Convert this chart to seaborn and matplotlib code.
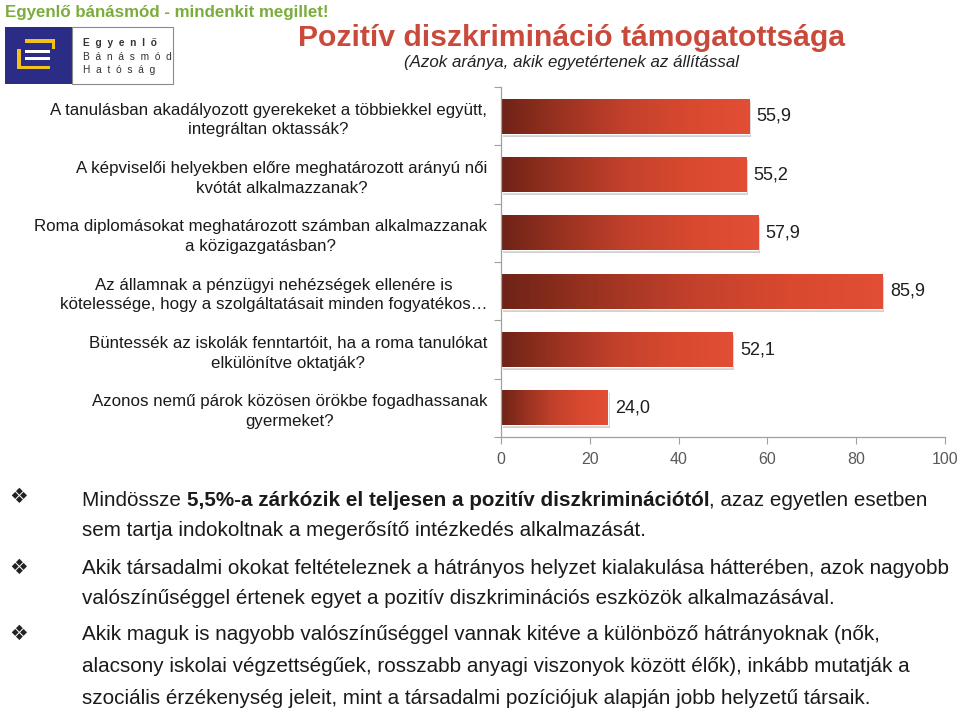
import numpy as np
import pandas as pd
import matplotlib
matplotlib.use('Agg')
import matplotlib.pyplot as plt
import seaborn as sns
from matplotlib.patches import Rectangle
from matplotlib.colors import LinearSegmentedColormap

categories = [
    "A tanulásban akadályozott gyerekeket a többiekkel együtt,\nintegráltan oktassák?",
    "A képviselői helyekben előre meghatározott arányú női\nkvótát alkalmazzanak?",
    "Roma diplomásokat meghatározott számban alkalmazzanak\na közigazgatásban?",
    "Az államnak a pénzügyi nehézségek ellenére is\nkötelessége, hogy a szolgáltatásait minden fogyatékos…",
    "Büntessék az iskolák fenntartóit, ha a roma tanulókat\nelkülönítve oktatják?",
    "Azonos nemű párok közösen örökbe fogadhassanak\ngyermeket?",
]
values = [55.9, 55.2, 57.9, 85.9, 52.1, 24.0]
xticks = [0, 20, 40, 60, 80, 100]

title = "Pozitív diszkrimináció támogatottsága"
subtitle = "(Azok aránya, akik egyetértenek az állítással"
header = "Egyenlő bánásmód - mindenkit megillet!"

sns.set_theme(style='white')
plt.rcParams['font.family'] = ['Liberation Sans', 'DejaVu Sans']

fig = plt.figure(figsize=(9.6, 7.13), dpi=100)

# overlay axes in pixel coordinates for decorations
axo = fig.add_axes([0, 0, 1, 1], zorder=0)
axo.set_xlim(0, 960)
axo.set_ylim(713, 0)
axo.axis('off')

ax = fig.add_axes([501/960, 1-437/713, 444/960, 350/713], zorder=1)
ax.patch.set_alpha(0)
df = pd.DataFrame({'q': categories, 'v': values})
sns.barplot(data=df, x='v', y='q', ax=ax, color='#c0402e', width=0.6, orient='h', saturation=1)

cmap = LinearSegmentedColormap.from_list('g', ['#6e2317', '#9c3321', '#c3412c', '#d8492f', '#e24e36'])
grad = np.linspace(0, 1, 256).reshape(1, -1)
for p in list(ax.patches):
    x, y = p.get_x(), p.get_y()
    w, h = p.get_width(), p.get_height()
    sh = Rectangle((x + 0.45, y + 0.05), w, h, facecolor='#9a9a9a', alpha=0.45, edgecolor='none', zorder=1.5)
    ax.add_patch(sh)
    p.set_zorder(2)
    im = ax.imshow(grad, extent=[x, x + w, y + h, y], aspect='auto', cmap=cmap, zorder=2.5, interpolation='bilinear')
    im.set_clip_path(p)
ax.set_xlim(0, 100)
ax.set_ylim(5.5, -0.5)

for i, v in enumerate(values):
    ax.text(v + 1.7, i, f"{v:.1f}".replace('.', ','), va='center', ha='left', fontsize=13, color='#1e1e1e')

ax.set_xticks(xticks)
ax.set_xticklabels([str(t) for t in xticks], fontsize=11.5, color='#595959')
ax.set_yticks(range(len(categories)))
ax.set_yticklabels(categories, fontsize=12.2, color='#1a1a1a', multialignment='center', linespacing=1.4)
ax.set_yticks(np.arange(-0.5, len(categories), 1), minor=True)
ax.tick_params(axis='y', which='major', length=0, pad=10)
ax.tick_params(axis='y', which='minor', length=5, color='#a0a0a0', width=0.8, direction='out', left=True)
ax.tick_params(axis='x', which='major', length=5, color='#a0a0a0', width=0.8, direction='out', bottom=True, pad=6)
ax.set_xlabel('')
ax.set_ylabel('')
for s in ['top', 'right']:
    ax.spines[s].set_visible(False)
for s in ['left', 'bottom']:
    ax.spines[s].set_color('#a0a0a0')
    ax.spines[s].set_linewidth(0.9)

# header and titles
axo.text(5, 12, header, fontsize=12.2, fontweight='bold', color='#7aad3c', va='center', ha='left')
axo.text(571, 38, title, fontsize=21.7, fontweight='bold', color='#c94a3b', va='center', ha='center')
axo.text(404, 62, subtitle, fontsize=12.2, style='italic', color='#222222', va='center', ha='left')

# logo
axo.add_patch(Rectangle((5, 27), 67, 57, facecolor='#2b2c86', edgecolor='none'))
axo.add_patch(Rectangle((72, 27), 101, 57, facecolor='white', edgecolor='#8a8a8a', lw=0.8))
yel = '#f2c21b'
for (rx, ry, rw, rh, c) in [(25, 39, 30, 3.5, yel), (51.5, 39, 3.5, 10, yel),
                            (17, 49, 4, 20, yel), (17, 65.5, 33, 3.5, yel),
                            (25, 50, 25, 3, 'white'), (25, 57, 25, 3, 'white')]:
    axo.add_patch(Rectangle((rx, ry), rw, rh, facecolor=c, edgecolor='none'))
for txt, yy, wt in [("E  g  y  e  n  l  ő", 43, 'bold'),
                    ("B  á  n  á  s  m  ó  d", 57, 'normal'),
                    ("H  a  t  ó  s  á  g", 70, 'normal')]:
    axo.text(83, yy, txt, fontsize=7.3, fontweight=wt, color='#333333', va='center', ha='left')

# bullets
bfam = ['Liberation Sans', 'DejaVu Sans']
bfs = 14.9
tc = '#1a1a1a'
for yy in [497, 568, 634]:
    axo.text(9, yy, '❖', fontsize=15, family='DejaVu Sans', color='#222222', va='center', ha='left')

t1 = axo.text(82, 500, "Mindössze ", fontsize=bfs, family=bfam, color=tc, va='center', ha='left')
t2 = axo.annotate("5,5%-a zárkózik el teljesen a pozitív diszkriminációtól", xy=(1, 0), xycoords=t1,
                  fontsize=bfs, family=bfam, fontweight='bold', color=tc, va='bottom', ha='left')
axo.annotate(", azaz egyetlen esetben", xy=(1, 0), xycoords=t2,
             fontsize=bfs, family=bfam, color=tc, va='bottom', ha='left')
lines = [
    (530, "sem tartja indokoltnak a megerősítő intézkedés alkalmazását."),
    (568, "Akik társadalmi okokat feltételeznek a hátrányos helyzet kialakulása hátterében, azok nagyobb"),
    (599, "valószínűséggel értenek egyet a pozitív diszkriminációs eszközök alkalmazásával."),
    (634, "Akik maguk is nagyobb valószínűséggel vannak kitéve a különböző hátrányoknak (nők,"),
    (666, "alacsony iskolai végzettségűek, rosszabb anyagi viszonyok között élők), inkább mutatják a"),
    (698, "szociális érzékenység jeleit, mint a társadalmi pozíciójuk alapján jobb helyzetű társaik."),
]
for yy, s in lines:
    axo.text(82, yy, s, fontsize=bfs, family=bfam, color=tc, va='center', ha='left')

fig.savefig('out.png', dpi=100)
